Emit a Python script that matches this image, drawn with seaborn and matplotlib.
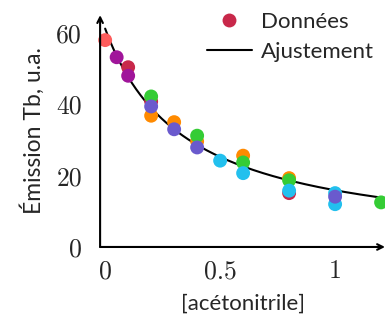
import numpy as np
import pandas as pd
import matplotlib
matplotlib.use("Agg")
import matplotlib.pyplot as plt
import seaborn as sns
from matplotlib.lines import Line2D

# donnees, une serie par couleur
serie_rouge_x = [0.1, 0.2, 0.8]
serie_rouge_y = [50.4, 40.8, 15.1]
serie_violet_x = [0.05, 0.1]
serie_violet_y = [53.2, 48.0]
serie_orange_x = [0.2, 0.3, 0.4, 0.6, 0.8]
serie_orange_y = [36.8, 35.0, 29.6, 25.6, 19.3]
serie_vert_x = [0.2, 0.4, 0.6, 0.8, 1.2]
serie_vert_y = [42.2, 31.2, 23.7, 18.7, 12.5]
serie_cyan_x = [0.5, 0.6, 0.8, 1.0, 1.0]
serie_cyan_y = [24.2, 20.7, 15.8, 15.1, 12.0]
serie_bleu_x = [0.2, 0.3, 0.4, 1.0]
serie_bleu_y = [39.4, 33.0, 27.9, 14.1]
serie_saumon_x = [0.0]
serie_saumon_y = [58.0]

series = ['rouge', 'violet', 'orange', 'vert', 'cyan', 'bleu', 'saumon']
couleurs = {'rouge': '#c8284a', 'violet': '#a0159a', 'orange': '#ff8a00',
            'vert': '#35cc35', 'cyan': '#22c0ee', 'bleu': '#6a5acd',
            'saumon': '#fd5c5c'}

xs = [serie_rouge_x, serie_violet_x, serie_orange_x, serie_vert_x,
      serie_cyan_x, serie_bleu_x, serie_saumon_x]
ys = [serie_rouge_y, serie_violet_y, serie_orange_y, serie_vert_y,
      serie_cyan_y, serie_bleu_y, serie_saumon_y]

rows = []
for nom, sx, sy in zip(series, xs, ys):
    for a, b in zip(sx, sy):
        rows.append({'conc': a, 'em': b, 'serie': nom})
df = pd.DataFrame(rows)

# ajustement y = a / (1 + k x) par moindres carres (recherche sur k)
best = None
for k in np.linspace(0.5, 6, 1101):
    g = 1.0 / (1.0 + k * df['conc'].values)
    a = np.dot(g, df['em'].values) / np.dot(g, g)
    err = np.sum((df['em'].values - a * g) ** 2)
    if best is None or err < best[0]:
        best = (err, a, k)
_, a_fit, k_fit = best
x_fit = np.linspace(0, 1.22, 200)
y_fit = a_fit / (1 + k_fit * x_fit)

sns.set_style("white")
plt.rcParams['font.family'] = ['Lato', 'DejaVu Sans']

fig = plt.figure(figsize=(3.85, 3.22), dpi=100)
ax = fig.add_axes([0.26, 0.233, 0.74, 0.72])

ax.plot(x_fit, y_fit, color='black', lw=1.5, zorder=2)
sns.scatterplot(data=df, x='conc', y='em', hue='serie', palette=couleurs,
                hue_order=series, s=100, edgecolor='none', legend=False,
                ax=ax, zorder=3, clip_on=False)

ax.set_xlim(-0.022, 1.217)
ax.set_ylim(0, 65)
ax.set_xticks([0, 0.5, 1])
ax.set_xticklabels(['0', '0.5', '1'])
ax.set_yticks([0, 20, 40, 60])
ax.set_yticklabels(['0', '20', '40', '60'])
for lab in ax.get_xticklabels() + ax.get_yticklabels():
    lab.set_fontfamily('cmr10')
    lab.set_fontsize(18.5)
ax.tick_params(direction='inout', length=6, width=0.6, color='#888888')
ax.tick_params(axis='x', pad=6)
ax.tick_params(axis='y', pad=10)

for s in ax.spines.values():
    s.set_visible(False)
ax.annotate('', xy=(1.0, 0), xytext=(0, 0), xycoords='axes fraction',
            arrowprops=dict(arrowstyle='->', lw=1.5, color='black',
                            shrinkA=0, shrinkB=0))
ax.annotate('', xy=(0, 1.0), xytext=(0, 0), xycoords='axes fraction',
            arrowprops=dict(arrowstyle='->', lw=1.5, color='black',
                            shrinkA=0, shrinkB=0))

ax.set_xlabel('[acétonitrile]', fontsize=16)
ax.set_ylabel('Émission Tb, u.a.', fontsize=16.5)
ax.xaxis.set_label_coords(0.5, -0.2)
ax.yaxis.set_label_coords(-0.195, 0.5)

handles = [Line2D([], [], ls='none', marker='o', markersize=10,
                  color=couleurs['rouge'], markeredgewidth=0),
           Line2D([], [], color='black', lw=1.5)]
ax.legend(handles, ['Données', 'Ajustement'], loc='upper right',
          frameon=False, fontsize=16, bbox_to_anchor=(1.03, 1.1),
          handlelength=2.0, handletextpad=0.4, labelspacing=0.45)

fig.savefig('out.png', dpi=100)
